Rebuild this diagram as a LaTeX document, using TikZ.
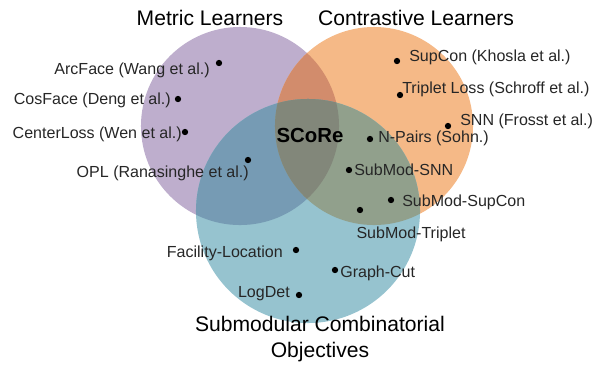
\documentclass[tikz,border=0pt]{standalone}
\usepackage{fontspec}
\setmainfont{Liberation Sans}
\usetikzlibrary{calc}
\definecolor{metric}{RGB}{190,174,205}
\definecolor{contra}{RGB}{245,185,135}
\definecolor{submod}{RGB}{150,195,207}
\definecolor{metcon}{RGB}{210,140,108}
\definecolor{metsub}{RGB}{118,155,180}
\definecolor{consub}{RGB}{145,160,140}
\definecolor{allthree}{RGB}{130,135,122}
\def \rmet{2.475cm}
\def \rsub{2.8cm}

\begin{document}
\begin{tikzpicture}[line cap=round,line join=round,x=0.025cm,y=-0.025cm,
  lbl/.style={font=\fontsize{11.4}{13}\selectfont,text=black!85,inner sep=0pt},
  ttl/.style={font=\fontsize{15}{18}\selectfont,inner sep=0pt,align=center},
  dot/.style={circle,fill=black,inner sep=0pt,minimum size=4.5pt}]
\useasboundingbox (0,0) rectangle (600,364);
% the three sets
\fill [metric] (240,126) circle (\rmet);
\fill [contra] (374,126) circle (\rmet);
\fill [submod] (308,211) circle (\rsub);
% overlaps
\begin{scope}
\clip (240,126) circle (\rmet);
\fill [metcon] (374,126) circle (\rmet);
\fill [metsub] (308,211) circle (\rsub);
\end{scope}
\begin{scope}
\clip (374,126) circle (\rmet);
\fill [consub] (308,211) circle (\rsub);
\clip (240,126) circle (\rmet);
\fill [allthree] (308,211) circle (\rsub);
\end{scope}
% titles
\node [ttl] (metT) at (210,18) {Metric Learners};
\node [ttl] (conT) at (416,18) {Contrastive Learners};
\node [ttl] (subT) at (320,339) {Submodular Combinatorial\\Objectives};
\node [ttl,font=\fontsize{14.5}{17}\selectfont\bfseries] (score) at (310,135) {SCoRe};
% metric learners
\node [dot] (arc) at (219,63) {};
\node [lbl,anchor=east] (arcL) at (210,70) {ArcFace (Wang et al.)};
\node [dot] (cos) at (178,99) {};
\node [lbl,anchor=east] (cosL) at (171,100) {CosFace (Deng et al.)};
\node [dot] (cen) at (185,132) {};
\node [lbl,anchor=east] (cenL) at (182,134) {CenterLoss (Wen et al.)};
\node [dot] (opl) at (248,160) {};
\node [lbl,anchor=east] (oplL) at (249,173) {OPL (Ranasinghe et al.)};
% contrastive learners
\node [dot] (sup) at (397,61) {};
\node [lbl,anchor=west] (supL) at (409,57) {SupCon (Khosla et al.)};
\node [dot] (tri) at (400,95) {};
\node [lbl,anchor=west] (triL) at (402,89) {Triplet Loss (Schroff et al.)};
\node [dot] (snn) at (448,126) {};
\node [lbl,anchor=west] (snnL) at (460,121) {SNN (Frosst et al.)};
\node [dot] (npr) at (370,139) {};
\node [lbl,anchor=west] (nprL) at (378,138) {N-Pairs (Sohn.)};
% submodular
\node [dot] (smsnn) at (349,170) {};
\node [lbl,anchor=west] (smsnnL) at (354,170) {SubMod-SNN};
\node [dot] (smsup) at (391,200) {};
\node [lbl,anchor=west] (smsupL) at (402,202) {SubMod-SupCon};
\node [dot] (smtri) at (360,210) {};
\node [lbl,anchor=center] (smtriL) at (411,234) {SubMod-Triplet};
\node [dot] (fl) at (296,250) {};
\node [lbl,anchor=east] (flL) at (283,253) {Facility-Location};
\node [dot] (gc) at (335,270) {};
\node [lbl,anchor=west] (gcL) at (340,273) {Graph-Cut};
\node [dot] (ld) at (299,295) {};
\node [lbl,anchor=east] (ldL) at (290,294) {LogDet};
\end{tikzpicture}
\end{document}
